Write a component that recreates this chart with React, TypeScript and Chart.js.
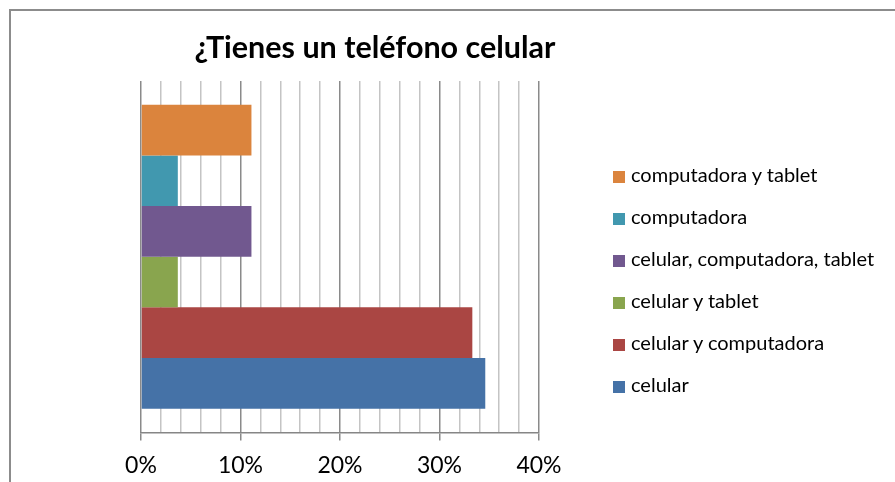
import React, { useEffect, useRef } from 'react';
import { Chart, registerables } from 'chart.js';

Chart.register(...registerables);

// ---- data ----
const chartTitle = '¿Tienes un teléfono celular';
const categories = [''];
const seriesNames = [
  'celular',
  'celular y computadora',
  'celular y tablet',
  'celular, computadora, tablet',
  'computadora',
  'computadora y tablet',
];
const seriesValues = [34.6, 33.3, 3.7, 11.1, 3.7, 11.1];
const seriesColors = ['#4572A7', '#AA4643', '#89A54E', '#71588F', '#4198AF', '#DB843D'];
const axisMin = 0;
const axisMax = 40;
const minorStep = 2;
const majorStep = 10;

const FONT = 'Lato, "Open Sans", "DejaVu Sans", sans-serif';

export default function App() {
  const ref = useRef<HTMLCanvasElement>(null);

  useEffect(() => {
    const order = seriesNames.map((_, i) => i).reverse();
    const chart = new Chart(ref.current as HTMLCanvasElement, {
      type: 'bar',
      data: {
        labels: categories,
        datasets: order.map((i) => ({
          label: seriesNames[i],
          data: [seriesValues[i]],
          backgroundColor: seriesColors[i],
          borderWidth: 0,
          categoryPercentage: 0.865,
          barPercentage: 1,
        })),
      },
      options: {
        indexAxis: 'y',
        animation: false,
        responsive: false,
        events: [],
        layout: { padding: { left: 141, right: 356, top: 81, bottom: -8 } },
        plugins: {
          legend: { display: false },
          title: { display: false },
          tooltip: { enabled: false },
        },
        scales: {
          y: { display: false },
          x: {
            min: axisMin,
            max: axisMax,
            border: { display: true, color: '#868686', width: 1.5 },
            grid: {
              color: (c: any) => (c.tick && c.tick.value % majorStep === 0 ? '#8a8a8a' : '#c4c4c4'),
              tickColor: (c: any) => (c.tick && c.tick.value % majorStep === 0 ? '#8a8a8a' : 'rgba(0,0,0,0)'),
              lineWidth: 1.5,
              tickLength: 8,
            },
            ticks: {
              stepSize: minorStep,
              autoSkip: false,
              maxRotation: 0,
              padding: 11,
              color: '#000',
              font: { family: FONT, size: 23 },
              callback: (v: any) => (Number(v) % majorStep === 0 ? v + '%' : ''),
            },
          },
        },
      },
    });
    return () => chart.destroy();
  }, []);

  const legendOrder = seriesNames.map((_, i) => i).reverse();

  return (
    <div style={{ position: 'absolute', left: 0, top: 0, width: 895, height: 482, background: '#fff', overflow: 'hidden' }}>
      <div
        style={{
          position: 'absolute',
          left: 9,
          top: 9,
          width: 900,
          height: 480,
          borderLeft: '2px solid #8c8c8c',
          borderTop: '2px solid #8c8c8c',
        }}
      />
      <canvas ref={ref} width={895} height={482} style={{ position: 'absolute', left: 0, top: 0 }} />
      <div
        style={{
          position: 'absolute',
          left: 0,
          width: 750,
          top: 28,
          textAlign: 'center',
          font: `bold 30.5px ${FONT}`,
          lineHeight: '1.2',
          color: '#000',
          whiteSpace: 'nowrap',
        }}
      >
        {chartTitle}
      </div>
      <div style={{ position: 'absolute', left: 613, top: 171 }}>
        {legendOrder.map((i, k) => (
          <div key={i} style={{ position: 'absolute', left: 0, top: k * 42, width: 280, height: 12 }}>
            <div style={{ position: 'absolute', left: 0, top: 0, width: 12, height: 12, background: seriesColors[i] }} />
            <span
              style={{
                position: 'absolute',
                left: 18,
                top: -9,
                font: `20px ${FONT}`,
                lineHeight: '1.2',
                color: '#000',
                whiteSpace: 'nowrap',
              }}
            >
              {seriesNames[i]}
            </span>
          </div>
        ))}
      </div>
    </div>
  );
}
